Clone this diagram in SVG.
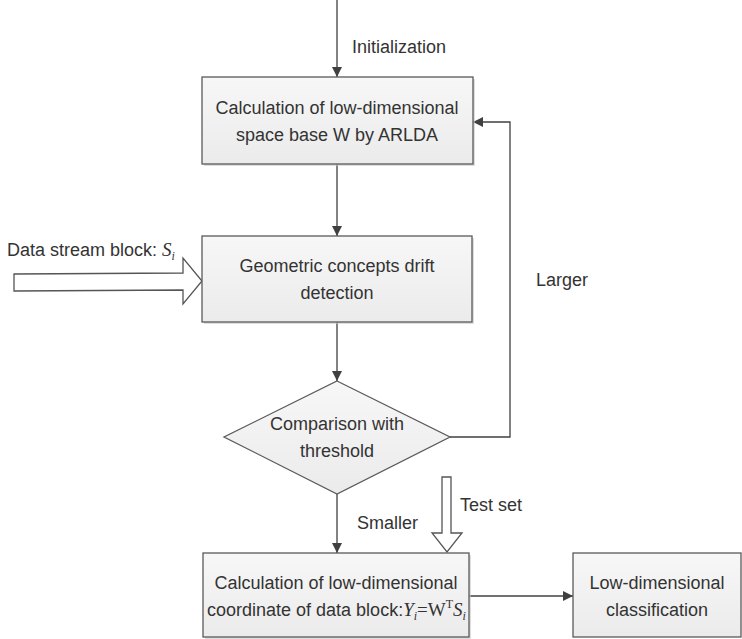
<svg xmlns="http://www.w3.org/2000/svg" width="742" height="639" viewBox="0 0 742 639">
<defs>
<linearGradient id="g" x1="0" y1="0" x2="0" y2="1">
<stop offset="0" stop-color="#f7f7f7"/>
<stop offset="1" stop-color="#ebebeb"/>
</linearGradient>
<marker id="ah" viewBox="0 0 10 10" refX="10" refY="5" markerWidth="10" markerHeight="10" markerUnits="userSpaceOnUse" orient="auto">
<path d="M0,0 L10,5 L0,10 z" fill="#404040"/>
</marker>
</defs>
<style>
.box{fill:url(#g);stroke:#5a5a5a;stroke-width:1.3}
.sh{fill:#c8c8c8;opacity:0.6}
.t{font-family:"Liberation Sans",Arial,sans-serif;font-size:18px;fill:#333;text-anchor:middle}
.l{font-family:"Liberation Sans",Arial,sans-serif;font-size:18px;fill:#333}
.m{font-family:"Liberation Serif","Times New Roman",serif;font-style:italic}
.mr{font-family:"Liberation Serif","Times New Roman",serif}
.c{fill:none;stroke:#404040;stroke-width:1.3}
.h{fill:#fff;stroke:#555;stroke-width:1.3}
</style>
<rect width="742" height="639" fill="#fff"/>
<g id="connectors">
<line class="c" x1="337" y1="0" x2="337" y2="77" marker-end="url(#ah)"/>
<line class="c" x1="337" y1="164" x2="337" y2="236" marker-end="url(#ah)"/>
<line class="c" x1="337" y1="322" x2="337" y2="381" marker-end="url(#ah)"/>
<line class="c" x1="337" y1="494" x2="337" y2="553" marker-end="url(#ah)"/>
<polyline class="c" points="450,437 510,437 510,122 473,122" marker-end="url(#ah)"/>
<line class="c" x1="469" y1="596" x2="573" y2="596" marker-end="url(#ah)"/>
<polygon class="h" points="14,274 183,273 183,258 202,281 183,304 183,290 14,291"/>
<polygon class="h" points="442,477 451,477 451,533 462,533 447,552 432,533 442,533"/>
<text class="l" x="352" y="53">Initialization</text>
<text class="l" x="536" y="286">Larger</text>
<text class="l" x="357" y="529">Smaller</text>
<text class="l" x="460" y="511">Test set</text>
<text class="l" x="7" y="256">Data stream block: <tspan class="m" font-size="19">S</tspan><tspan class="m" font-size="12" dy="4">i</tspan></text>
</g>
<g id="n1">
<rect class="sh" x="204" y="79" width="271" height="87"/>
<rect class="box" x="202" y="77" width="271" height="87"/>
<text class="t" x="337" y="114">Calculation of low-dimensional</text>
<text class="t" x="337" y="141">space base W by ARLDA</text>
</g>
<g id="n2">
<rect class="sh" x="204" y="238" width="270" height="86"/>
<rect class="box" x="202" y="236" width="270" height="86"/>
<text class="t" x="337" y="272">Geometric concepts drift</text>
<text class="t" x="337" y="299">detection</text>
</g>
<g id="n3">
<polygon class="box" points="337,381 450,437 337,494 224,437"/>
<text class="t" x="337" y="430">Comparison with</text>
<text class="t" x="337" y="457">threshold</text>
</g>
<g id="n4">
<rect class="sh" x="205" y="555" width="266" height="84"/>
<rect class="box" x="203" y="553" width="266" height="84"/>
<text class="t" x="336" y="589">Calculation of low-dimensional</text>
<text class="l" x="207" y="616">coordinate of data block:<tspan class="m" font-size="19">Y</tspan><tspan class="m" font-size="12" dy="4">i</tspan><tspan class="mr" font-size="19" dy="-4">=W</tspan><tspan class="mr" font-size="12" dy="-8">T</tspan><tspan class="m" font-size="19" dy="8">S</tspan><tspan class="m" font-size="12" dy="4">i</tspan></text>
</g>
<g id="n5">
<rect class="box" x="573" y="553" width="168" height="84"/>
<text class="t" x="657" y="589">Low-dimensional</text>
<text class="t" x="657" y="616">classification</text>
</g>
</svg>
